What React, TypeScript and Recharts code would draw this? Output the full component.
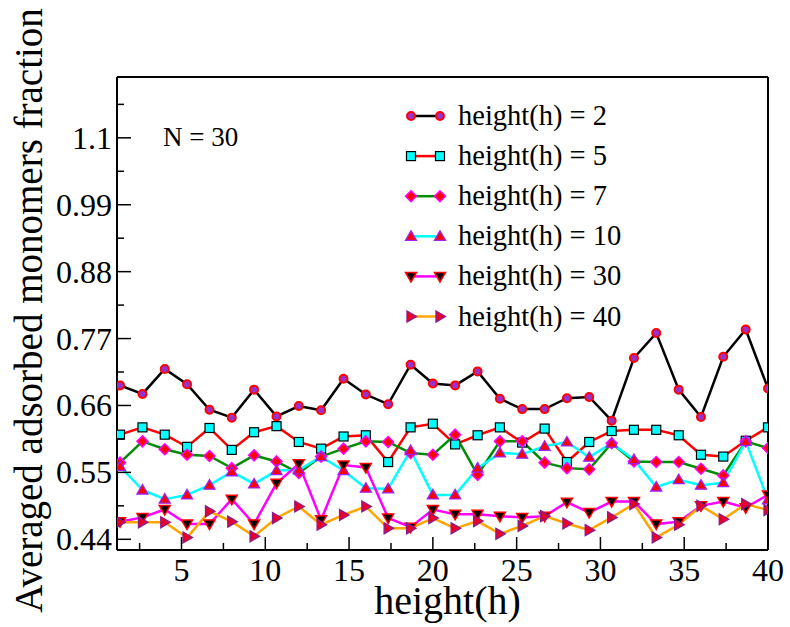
import React from 'react';
import { LineChart, Line, XAxis, YAxis, Legend, Label, ReferenceLine } from 'recharts';

const FONT = 'Liberation Serif, DejaVu Serif, Times New Roman, serif';

// x positions (height h) of the 30 samples
const heightSteps = [
    1.33, 2.67, 4, 5.33, 6.67, 8, 9.33, 10.67, 12, 13.33,
    14.67, 16, 17.33, 18.67, 20, 21.33, 22.67, 24, 25.33, 26.67,
    28, 29.33, 30.67, 32, 33.33, 34.67, 36, 37.33, 38.67, 40,
];

const fracH2 = [
    0.693, 0.679, 0.72, 0.695, 0.653, 0.64, 0.686, 0.642, 0.659, 0.652,
    0.704, 0.678, 0.662, 0.727, 0.696, 0.693, 0.716, 0.671, 0.654, 0.654,
    0.672, 0.674, 0.635, 0.738, 0.779, 0.686, 0.641, 0.74, 0.785, 0.688,
];
const fracH5 = [
    0.612, 0.624, 0.612, 0.592, 0.623, 0.587, 0.616, 0.626, 0.6, 0.589,
    0.609, 0.611, 0.567, 0.624, 0.63, 0.596, 0.611, 0.624, 0.599, 0.622,
    0.567, 0.6, 0.618, 0.62, 0.62, 0.611, 0.579, 0.576, 0.602, 0.624,
];
const fracH7 = [
    0.566, 0.601, 0.588, 0.579, 0.577, 0.557, 0.578, 0.568, 0.549, 0.576,
    0.589, 0.601, 0.6, 0.582, 0.579, 0.612, 0.546, 0.601, 0.601, 0.566,
    0.557, 0.555, 0.598, 0.568, 0.567, 0.567, 0.556, 0.545, 0.601, 0.59,
];
const fracH10 = [
    0.56, 0.521, 0.506, 0.513, 0.529, 0.551, 0.531, 0.553, 0.554, 0.576,
    0.553, 0.524, 0.523, 0.586, 0.513, 0.513, 0.557, 0.582, 0.58, 0.593,
    0.6, 0.575, 0.598, 0.571, 0.526, 0.538, 0.529, 0.533, 0.601, 0.505,
];
const fracH30 = [
    0.469, 0.476, 0.489, 0.465, 0.465, 0.506, 0.465, 0.532, 0.564, 0.472,
    0.562, 0.558, 0.475, 0.46, 0.489, 0.481, 0.481, 0.478, 0.476, 0.478,
    0.501, 0.484, 0.502, 0.502, 0.465, 0.469, 0.495, 0.502, 0.492, 0.513,
];
const fracH40 = [
    0.468, 0.468, 0.468, 0.443, 0.486, 0.469, 0.445, 0.475, 0.494, 0.464,
    0.48, 0.494, 0.458, 0.458, 0.475, 0.458, 0.47, 0.449, 0.462, 0.478,
    0.466, 0.455, 0.476, 0.498, 0.443, 0.464, 0.495, 0.473, 0.498, 0.488,
];

const xDomain = [1.15, 40];
const yDomain = [0.4224, 1.2];
const xMajorTicks = [5, 10, 15, 20, 25, 30, 35, 40];
const xMinorTicks = [2.5, 7.5, 12.5, 17.5, 22.5, 27.5, 32.5, 37.5];
const yMajorTicks = [0.44, 0.55, 0.66, 0.77, 0.88, 0.99, 1.1];
const yMinorTicks = [0.495, 0.605, 0.715, 0.825, 0.935, 1.045, 1.155];
const yTickLabels = ['0.44', '0.55', '0.66', '0.77', '0.88', '0.99', '1.1'];

const data = heightSteps.map((x, i) => ({
    x,
    h2: fracH2[i],
    h5: fracH5[i],
    h7: fracH7[i],
    h10: fracH10[i],
    h30: fracH30[i],
    h40: fracH40[i],
}));

type Shape = 'circle' | 'square' | 'diamond' | 'triUp' | 'triDown' | 'triRight';

const series: { key: string; name: string; color: string; shape: Shape }[] = [
    { key: 'h2', name: 'height(h) = 2', color: '#000000', shape: 'circle' },
    { key: 'h5', name: 'height(h) = 5', color: '#ff0000', shape: 'square' },
    { key: 'h7', name: 'height(h) = 7', color: '#008c00', shape: 'diamond' },
    { key: 'h10', name: 'height(h) = 10', color: '#00ffff', shape: 'triUp' },
    { key: 'h30', name: 'height(h) = 30', color: '#ff00ff', shape: 'triDown' },
    { key: 'h40', name: 'height(h) = 40', color: '#ffa500', shape: 'triRight' },
];

const textStyle = { fontFamily: FONT, fill: '#000' };

const Marker = ({ shape, cx, cy }: { shape: Shape; cx: number; cy: number }) => {
    if (cx == null || cy == null) return null;
    switch (shape) {
        case 'circle':
            return <circle cx={cx} cy={cy} r={4} fill="#9932cc" stroke="#ff0000" strokeWidth={2} />;
        case 'square':
            return <rect x={cx - 4.5} y={cy - 4.5} width={9} height={9} fill="#00ffff" stroke="#000" strokeWidth={1.2} />;
        case 'diamond':
            return (
                <polygon
                    points={`${cx},${cy - 5.5} ${cx + 5.5},${cy} ${cx},${cy + 5.5} ${cx - 5.5},${cy}`}
                    fill="#ff0000"
                    stroke="#ff00ff"
                    strokeWidth={1.5}
                />
            );
        case 'triUp':
            return (
                <polygon
                    points={`${cx},${cy - 5.5} ${cx + 5.5},${cy + 4} ${cx - 5.5},${cy + 4}`}
                    fill="#ff0000"
                    stroke="#a020f0"
                    strokeWidth={1.3}
                />
            );
        case 'triDown':
            return (
                <polygon
                    points={`${cx - 5.5},${cy - 4} ${cx + 5.5},${cy - 4} ${cx},${cy + 5.5}`}
                    fill="#000000"
                    stroke="#ff0000"
                    strokeWidth={1.5}
                />
            );
        default:
            return (
                <polygon
                    points={`${cx - 4},${cy - 5.5} ${cx + 5.5},${cy} ${cx - 4},${cy + 5.5}`}
                    fill="#e8002a"
                    stroke="#8b1a8b"
                    strokeWidth={1.3}
                />
            );
    }
};

const XTick = (props: any) => {
    const { x, y, payload } = props;
    const major = xMajorTicks.includes(payload.value);
    return (
        <g>
            <line x1={x} x2={x} y1={y} y2={y - (major ? 13 : 7)} stroke="#000" strokeWidth={1.5} />
            {major && (
                <text x={x} y={y + 31} textAnchor="middle" fontSize={32} style={textStyle}>
                    {payload.value}
                </text>
            )}
        </g>
    );
};

const YTick = (props: any) => {
    const { x, y, payload } = props;
    const idx = yMajorTicks.indexOf(payload.value);
    return (
        <g>
            <line x1={x} x2={x + (idx >= 0 ? 14 : 7)} y1={y} y2={y} stroke="#000" strokeWidth={1.5} />
            {idx >= 0 && (
                <text x={x - 5} y={y + 11} textAnchor="end" fontSize={32} style={textStyle}>
                    {yTickLabels[idx]}
                </text>
            )}
        </g>
    );
};

const LegendBox = () => (
    <svg width={260} height={240} style={{ display: 'block' }}>
        {series.map((s, i) => {
            const cy = 21 + i * 40.1;
            return (
                <g key={s.key}>
                    <line x1={16} x2={45} y1={cy} y2={cy} stroke={s.color} strokeWidth={2.5} />
                    <Marker shape={s.shape} cx={16} cy={cy} />
                    <Marker shape={s.shape} cx={45} cy={cy} />
                    <text x={63} y={cy + 9} fontSize={28.5} style={textStyle}>
                        {s.name}
                    </text>
                </g>
            );
        })}
    </svg>
);

export default function App() {
    return (
        <div style={{ position: 'absolute', left: 0, top: 0, width: 790, height: 627, background: '#fff' }}>
            <LineChart
                width={790}
                height={627}
                data={data}
                margin={{ top: 77, right: 22, left: 0, bottom: 0 }}
            >
                <XAxis
                    dataKey="x"
                    type="number"
                    domain={xDomain}
                    allowDataOverflow
                    ticks={[...xMinorTicks, ...xMajorTicks].sort((a, b) => a - b)}
                    interval={0}
                    height={77}
                    tickSize={0}
                    tickMargin={0}
                    tickLine={false}
                    axisLine={{ stroke: '#000', strokeWidth: 2 }}
                    tick={<XTick />}
                >
                    <Label
                        content={(p: any) => {
                            const vb = p.viewBox;
                            return (
                                <text
                                    x={vb.x + vb.width / 2 + 5}
                                    y={vb.y + vb.height - 13}
                                    textAnchor="middle"
                                    fontSize={40}
                                    style={textStyle}
                                >
                                    height(h)
                                </text>
                            );
                        }}
                    />
                </XAxis>
                <YAxis
                    type="number"
                    domain={yDomain}
                    allowDataOverflow
                    ticks={[...yMinorTicks, ...yMajorTicks].sort((a, b) => a - b)}
                    interval={0}
                    width={117}
                    tickSize={0}
                    tickMargin={0}
                    tickLine={false}
                    axisLine={{ stroke: '#000', strokeWidth: 2 }}
                    tick={<YTick />}
                >
                    <Label
                        content={(p: any) => {
                            const vb = p.viewBox;
                            const cy = vb.y + vb.height / 2 - 3;
                            return (
                                <text
                                    x={42}
                                    y={cy}
                                    transform={`rotate(-90, 42, ${cy})`}
                                    textAnchor="middle"
                                    fontSize={39}
                                    style={textStyle}
                                >
                                    Averaged adsorbed monomers fraction
                                </text>
                            );
                        }}
                    />
                </YAxis>
                {/* top and right frame edges */}
                <ReferenceLine y={yDomain[1]} stroke="#000" strokeWidth={2} ifOverflow="visible" />
                <ReferenceLine x={xDomain[1]} stroke="#000" strokeWidth={2} ifOverflow="visible" />
                <Legend
                    layout="horizontal"
                    verticalAlign="middle"
                    align="center"
                    wrapperStyle={{ left: 395, top: 95, width: 260, height: 240 }}
                    content={() => <LegendBox />}
                />
                {series.map((s) => (
                    <Line
                        key={s.key}
                        type="linear"
                        dataKey={s.key}
                        name={s.name}
                        stroke={s.color}
                        strokeWidth={2.5}
                        isAnimationActive={false}
                        activeDot={false}
                        dot={(p: any) => (
                            <Marker key={`${s.key}-${p.index}`} shape={s.shape} cx={p.cx} cy={p.cy} />
                        )}
                    />
                ))}
            </LineChart>
            <svg
                width={120}
                height={40}
                style={{ position: 'absolute', left: 160, top: 118, pointerEvents: 'none' }}
            >
                <text x={3} y={28} fontSize={27} style={textStyle}>
                    N = 30
                </text>
            </svg>
        </div>
    );
}
